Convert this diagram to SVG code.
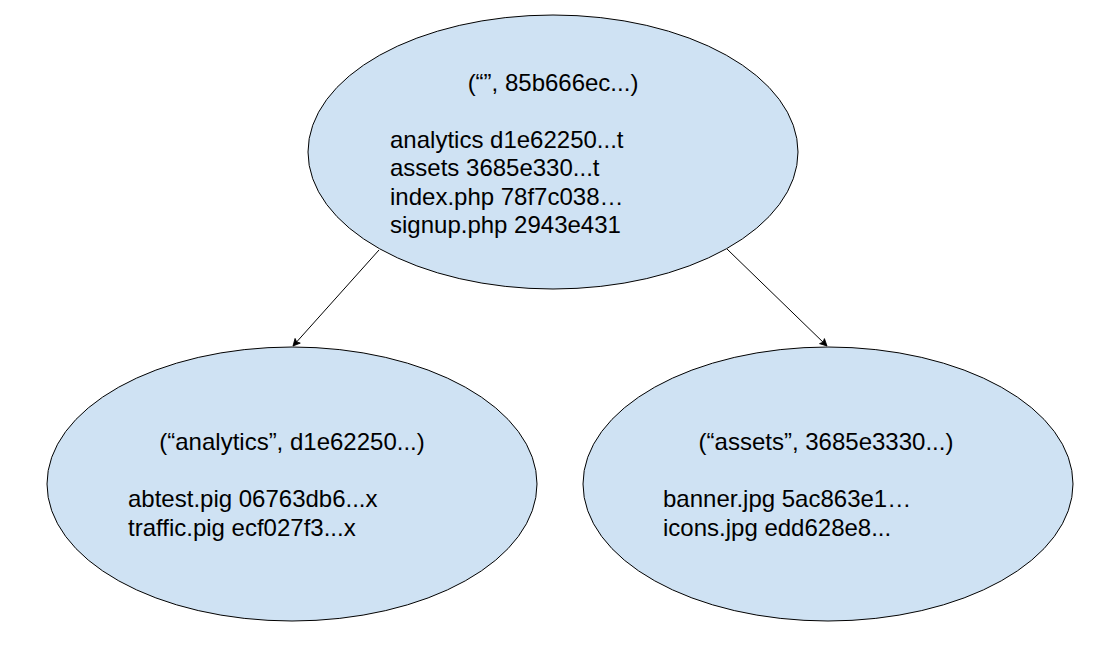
<svg xmlns="http://www.w3.org/2000/svg" width="1109" height="649" viewBox="0 0 1109 649">
  <style>
    .node ellipse { fill: #cfe2f3; stroke: #000000; stroke-width: 1; }
    .node text { font-family: "Liberation Sans", Arial, sans-serif; font-size: 24px; fill: #000000; }
    .title { text-anchor: middle; }
    .edge { stroke: #000000; stroke-width: 1; fill: none; marker-end: url(#arrow); }
  </style>
  <defs>
    <marker id="arrow" markerUnits="userSpaceOnUse" markerWidth="10" markerHeight="10" viewBox="0 0 10 10" refX="8" refY="5" orient="auto">
      <path d="M1,1.5 L8,5 L1,8.5 L2.5,5 z" fill="#000000" stroke="#000000" stroke-width="0.8" stroke-linejoin="round"/>
    </marker>
  </defs>
  <rect x="0" y="0" width="1109" height="649" fill="#ffffff"/>

  <g id="connectors">
    <line class="edge" x1="379" y1="250" x2="293" y2="346"/>
    <line class="edge" x1="727" y1="249" x2="827" y2="346"/>
  </g>

  <g id="node-root" class="node">
    <ellipse cx="553" cy="152" rx="245" ry="137"/>
    <text class="title" x="553" y="91">(“”, 85b666ec...)</text>
    <text x="390" y="147.5">analytics d1e62250...t</text>
    <text x="390" y="176">assets 3685e330...t</text>
    <text x="390" y="204.5">index.php 78f7c038…</text>
    <text x="390" y="233">signup.php 2943e431</text>
  </g>

  <g id="node-analytics" class="node">
    <ellipse cx="292" cy="484" rx="245" ry="137"/>
    <text class="title" x="292" y="450">(“analytics”, d1e62250...)</text>
    <text x="128" y="507">abtest.pig 06763db6...x</text>
    <text x="128" y="535.5">traffic.pig ecf027f3...x</text>
  </g>

  <g id="node-assets" class="node">
    <ellipse cx="828" cy="484" rx="245" ry="137"/>
    <text class="title" x="826" y="450">(“assets”, 3685e3330...)</text>
    <text x="663" y="507">banner.jpg 5ac863e1…</text>
    <text x="663" y="535.5">icons.jpg edd628e8...</text>
  </g>
</svg>
